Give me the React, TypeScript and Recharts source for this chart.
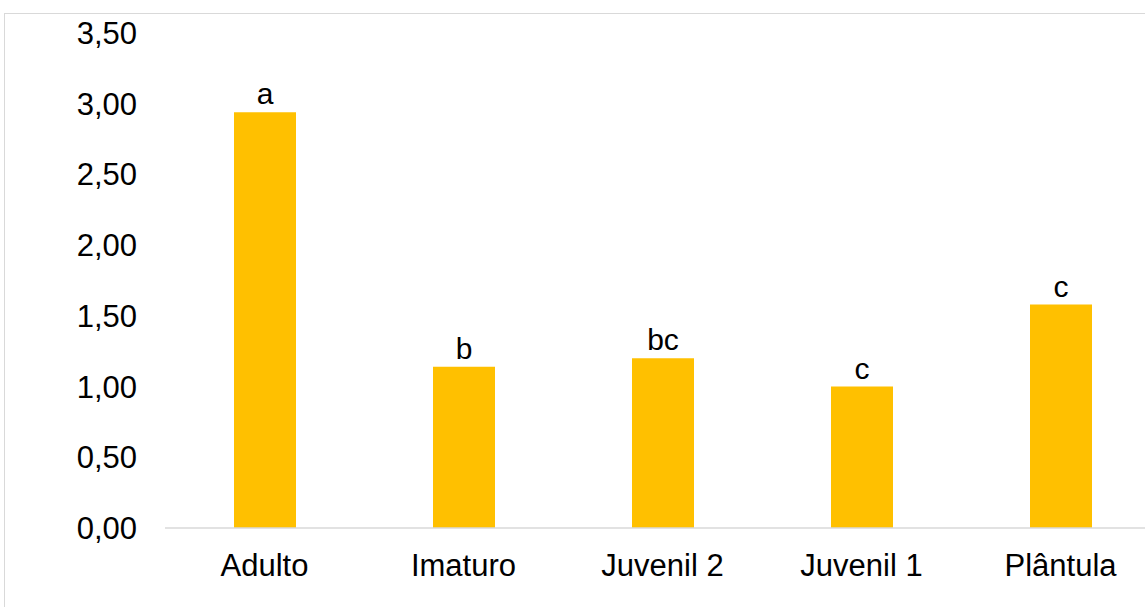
import React from 'react';
import { BarChart, Bar, XAxis, YAxis, LabelList } from 'recharts';

// stage categories and mean values
const categories = ['Adulto', 'Imaturo', 'Juvenil 2', 'Juvenil 1', 'Plântula'];
const values = [2.94, 1.14, 1.2, 1.0, 1.58];
const letters = ['a', 'b', 'bc', 'c', 'c'];
const yTicks = [0, 0.5, 1, 1.5, 2, 2.5, 3, 3.5];

const data = categories.map((name, i) => ({ name, value: values[i], letter: letters[i] }));

const fmt = (v: number) => v.toFixed(2).replace('.', ',');

const App: React.FC = () => {
  return (
    <div style={{ position: 'absolute', left: 0, top: 0, width: 1145, height: 607, overflow: 'hidden', background: '#fff', fontFamily: '"Liberation Sans", Arial, sans-serif' }}>
      <div style={{ position: 'absolute', left: 4, top: 13, width: 1200, height: 700, border: '1px solid #d9d9d9', boxSizing: 'border-box' }} />
      <div style={{ position: 'absolute', left: 0, top: 0 }}>
        <BarChart width={1180} height={607} data={data} margin={{ top: 33, right: 20, bottom: 0, left: 0 }}>
          <XAxis
            dataKey="name"
            axisLine={{ stroke: '#d9d9d9', strokeWidth: 1.5 }}
            tickLine={false}
            tickMargin={20}
            height={79}
            tick={{ fill: '#000', fontSize: 31 }}
            interval={0}
          />
          <YAxis
            domain={[0, 3.5]}
            ticks={yTicks}
            tickFormatter={fmt}
            axisLine={false}
            tickLine={false}
            width={165}
            tickMargin={22}
            tick={{ fill: '#000', fontSize: 31 }}
          />
          <Bar dataKey="value" fill="#FFC000" barSize={62} isAnimationActive={false}>
            <LabelList dataKey="letter" position="top" offset={8} style={{ fill: '#000', fontSize: 30 }} />
          </Bar>
        </BarChart>
      </div>
    </div>
  );
};

export default App;
